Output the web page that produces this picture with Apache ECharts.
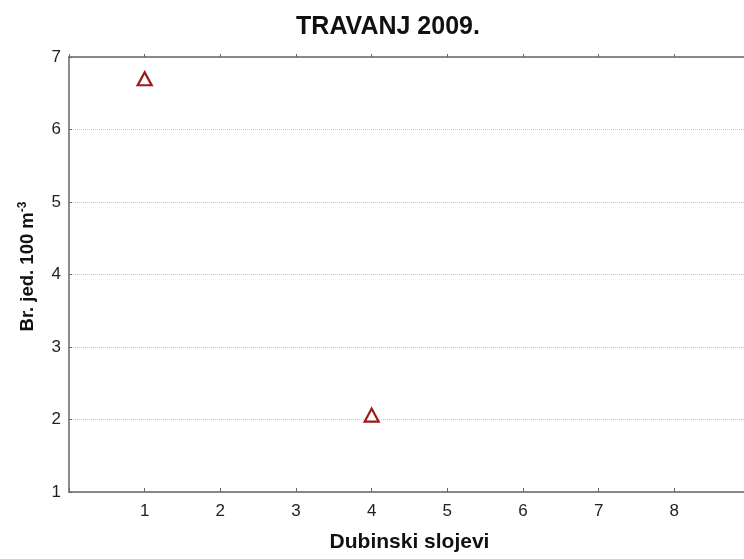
<!DOCTYPE html>
<html><head><meta charset="utf-8">
<script src="https://cdn.jsdelivr.net/npm/echarts@6/dist/echarts.min.js"></script>
<style>html,body{margin:0;padding:0;background:#fff}#c{width:744px;height:559px}</style>
</head><body><div id="c"></div>
<script>
const titleText = 'TRAVANJ 2009.';
const xName = 'Dubinski slojevi';
const xTicks = [1, 2, 3, 4, 5, 6, 7, 8];
const yTicks = [1, 2, 3, 4, 5, 6, 7];
const depthLayer = [1, 4];
const abundance = [6.70, 2.06];

const chart = echarts.init(document.getElementById('c'));
const font = '"Liberation Sans", Arial, sans-serif';
chart.setOption({
  animation: false,
  backgroundColor: '#fff',
  title: { text: titleText, left: 383, top: 10, textAlign: 'center',
    textStyle: { fontFamily: font, fontSize: 25, fontWeight: 'bold', color: '#111' } },
  grid: { left: 69, top: 57, bottom: 67, width: 681, containLabel: false, outerBoundsMode: 'none' },
  xAxis: [{
    type: 'value', min: 0, max: 9, interval: 1,
    name: xName, nameLocation: 'middle', nameGap: 40,
    nameTextStyle: { fontFamily: font, fontSize: 21, fontWeight: 'bold', color: '#111' },
    axisLine: { show: true, lineStyle: { color: '#666', width: 1.5 } },
    axisTick: { show: true, length: 4, inside: true, lineStyle: { color: '#666' } },
    axisLabel: { fontFamily: font, fontSize: 17, color: '#222', margin: 11,
      formatter: v => xTicks.includes(v) ? String(v) : '' },
    splitLine: { show: false }
  }, {
    type: 'value', position: 'top', min: 0, max: 9, interval: 1,
    axisLine: { show: true, lineStyle: { color: '#666', width: 1.5 } },
    axisTick: { show: true, length: 3, inside: false, lineStyle: { color: '#666' } },
    axisLabel: { show: false }, splitLine: { show: false }
  }],
  yAxis: {
    type: 'value', min: 1, max: 7, interval: 1,
    name: '{b|Br. jed. 100 m}{s|-3}', nameLocation: 'middle', nameGap: 30,
    nameTextStyle: { padding: [0, 0, 0, 16], rich: {
      b: { fontFamily: font, fontSize: 18.5, fontWeight: 'bold', color: '#111' },
      s: { fontFamily: font, fontSize: 12, fontWeight: 'bold', color: '#111', verticalAlign: 'top', padding: [0, 0, 10, 0] }
    } },
    axisLine: { show: true, lineStyle: { color: '#666', width: 1.5 } },
    axisTick: { show: true, length: 3, inside: true, lineStyle: { color: '#666' } },
    axisLabel: { fontFamily: font, fontSize: 17, color: '#222', margin: 8,
      formatter: v => yTicks.includes(v) ? String(v) : '' },
    splitLine: { show: true, lineStyle: { color: '#c4c4c4', type: 'dotted', width: 1 } }
  },
  series: [{
    type: 'scatter',
    data: depthLayer.map((x, i) => [x, abundance[i]]),
    symbol: 'triangle', symbolSize: [14, 13],
    itemStyle: { color: '#fff', borderColor: '#9b1b1b', borderWidth: 2.2, opacity: 1 }
  }]
});
</script></body></html>
